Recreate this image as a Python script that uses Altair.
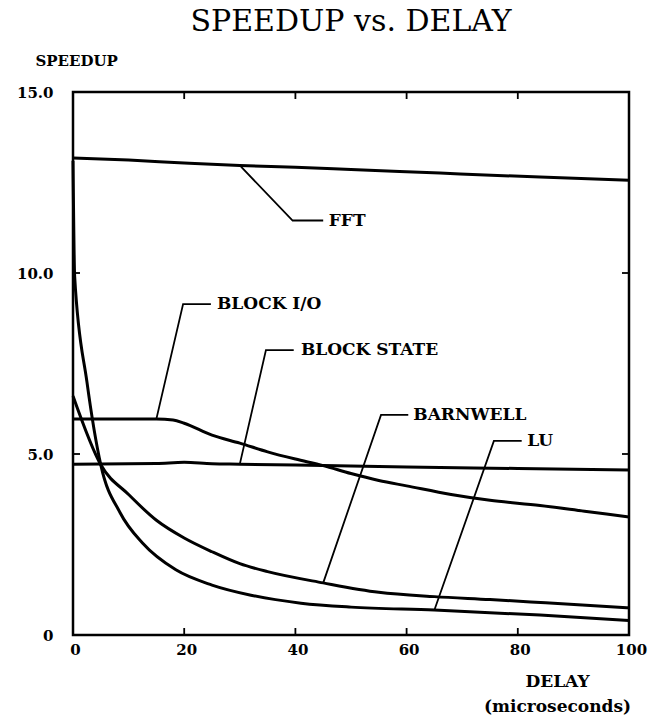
import altair as alt
import pandas as pd

# Measured speedup against added delay (microseconds) for each program
fft_delay = [0, 10, 20, 30, 40, 50, 66, 84, 100]
fft_speedup = [13.18, 13.12, 13.04, 12.97, 12.92, 12.86, 12.76, 12.65, 12.56]

blockio_delay = [0, 15, 18, 20, 25, 30, 35, 40, 45, 50, 55, 60, 68, 75, 84, 92, 100]
blockio_speedup = [5.97, 5.97, 5.94, 5.85, 5.52, 5.30, 5.06, 4.86, 4.68, 4.46,
                   4.27, 4.12, 3.88, 3.72, 3.58, 3.42, 3.26]

blockstate_delay = [0, 15, 20, 25, 30, 45, 60, 80, 100]
blockstate_speedup = [4.72, 4.74, 4.77, 4.73, 4.72, 4.68, 4.64, 4.60, 4.56]

barnwell_delay = [0, 5, 10, 15, 20, 25, 30, 35, 45, 55, 65, 75, 85, 100]
barnwell_speedup = [6.6, 4.7, 3.88, 3.17, 2.68, 2.3, 1.97, 1.75, 1.44, 1.18,
                    1.06, 0.98, 0.89, 0.75]

lu_delay = [0, 0.3, 2.5, 5, 8.5, 12.5, 18.5, 25, 32, 41, 50, 65, 84, 100]
lu_speedup = [13.1, 9.9, 7.0, 4.7, 3.37, 2.54, 1.80, 1.38, 1.10, 0.88, 0.77,
              0.69, 0.55, 0.40]

# Callout labels: leader runs from a point on the curve up to an elbow,
# then horizontally to the label text
label_names = ["FFT", "BLOCK I/O", "BLOCK STATE", "BARNWELL", "LU"]
leader_from_delay = [30, 15, 30, 45, 65]
leader_from_speedup = [12.97, 5.97, 4.72, 1.44, 0.69]
leader_elbow_delay = [39.5, 19.8, 34.7, 55.4, 75.7]
leader_end_delay = [45, 24.8, 39.7, 60.3, 80.7]
label_delay = [46, 25.9, 41.0, 61.2, 81.7]
label_speedup = [11.45, 9.14, 7.87, 6.08, 5.36]

# Inward tick positions on the frame
x_tick_values = [20, 40, 60, 80]
y_tick_values = [5, 10]

x_label_values = [0, 20, 40, 60, 80, 100]
y_label_values = [0, 5, 10, 15]

FONT = "DejaVu Serif"
W, H = 556, 543

series = [
    ("FFT", fft_delay, fft_speedup),
    ("BLOCK I/O", blockio_delay, blockio_speedup),
    ("BLOCK STATE", blockstate_delay, blockstate_speedup),
    ("BARNWELL", barnwell_delay, barnwell_speedup),
    ("LU", lu_delay, lu_speedup),
]
curves = pd.DataFrame(
    [{"program": name, "delay": d, "speedup": s}
     for name, ds, ss in series for d, s in zip(ds, ss)]
)

leader_rows = []
for i, name in enumerate(label_names):
    leader_rows += [
        {"program": name, "step": 0, "delay": leader_from_delay[i], "speedup": leader_from_speedup[i]},
        {"program": name, "step": 1, "delay": leader_elbow_delay[i], "speedup": label_speedup[i]},
        {"program": name, "step": 2, "delay": leader_end_delay[i], "speedup": label_speedup[i]},
    ]
leaders = pd.DataFrame(leader_rows)
labels = pd.DataFrame({"program": label_names, "delay": label_delay, "speedup": label_speedup})

x_axis = alt.Axis(
    values=x_label_values, domain=False, ticks=False, grid=False,
    labelFont=FONT, labelFontSize=15, labelFontWeight="bold", labelColor="black",
    labelPadding=7, labelFlush=False, labelOffset=2,
    title=["DELAY", "(microseconds)"], titleFont=FONT, titleFontSize=17,
    titleFontWeight="bold", titleColor="black", titleAlign="center",
    titleAnchor="start", titleX=484, titleY=38, titleBaseline="top",
    titleLineHeight=25,
)
y_axis = alt.Axis(
    values=y_label_values, domain=False, ticks=False, grid=False,
    labelExpr="datum.value == 0 ? '0' : format(datum.value, '.1f')",
    labelFont=FONT, labelFontSize=15, labelFontWeight="bold", labelColor="black",
    labelPadding=20,
    title="SPEEDUP", titleFont=FONT, titleFontSize=15, titleFontWeight="bold",
    titleColor="black", titleAngle=0, titleAlign="left", titleX=-38, titleY=-32,
    titleBaseline="middle",
)
x_enc = alt.X("delay:Q", scale=alt.Scale(domain=[0, 100], nice=False), axis=x_axis)
y_enc = alt.Y("speedup:Q", scale=alt.Scale(domain=[0, 15], nice=False), axis=y_axis)

curve_layer = alt.Chart(curves).mark_line(
    color="black", strokeWidth=3, interpolate="monotone"
).encode(x=x_enc, y=y_enc, detail="program:N")

leader_layer = alt.Chart(leaders).mark_line(color="black", strokeWidth=1.8).encode(
    x=x_enc, y=y_enc, detail="program:N", order="step:Q"
)

label_layer = alt.Chart(labels).mark_text(
    align="left", baseline="middle", font=FONT, fontSize=17, fontWeight="bold",
    color="black"
).encode(x=x_enc, y=y_enc, text="program:N")

xticks = pd.DataFrame({"delay": x_tick_values})
yticks = pd.DataFrame({"speedup": y_tick_values})

bottom_ticks = alt.Chart(xticks).mark_rule(color="black", strokeWidth=1.8).encode(
    x=x_enc, y=alt.value(H), y2=alt.value(H - 7)
)
top_ticks = alt.Chart(xticks).mark_rule(color="black", strokeWidth=1.8).encode(
    x=x_enc, y=alt.value(0), y2=alt.value(7)
)
left_ticks = alt.Chart(yticks).mark_rule(color="black", strokeWidth=1.8).encode(
    y=y_enc, x=alt.value(0), x2=alt.value(7)
)
right_ticks = alt.Chart(yticks).mark_rule(color="black", strokeWidth=1.8).encode(
    y=y_enc, x=alt.value(W), x2=alt.value(W - 7)
)

chart = alt.layer(
    curve_layer, leader_layer, label_layer,
    bottom_ticks, top_ticks, left_ticks, right_ticks,
).properties(
    width=W, height=H,
    autosize=alt.AutoSizeParams(type="none"),
    padding={"left": 73, "top": 92, "right": 23, "bottom": 88},
    background="white",
    title=alt.TitleParams(
        "SPEEDUP vs. DELAY", font=FONT, fontSize=30, fontWeight="normal",
        color="black", anchor="middle", frame="group", offset=16,
    ),
).configure_view(stroke="black", strokeWidth=2.5)

chart.save("out.html", embed_options={"renderer": "svg", "actions": False})
